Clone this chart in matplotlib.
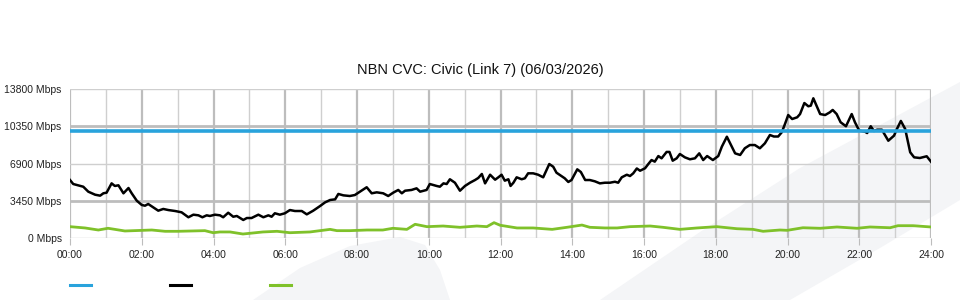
import numpy as np
import matplotlib.pyplot as plt
from matplotlib.patches import Polygon
from matplotlib.lines import Line2D

plt.rcParams['font.family'] = ['Liberation Sans', 'DejaVu Sans']

title = 'NBN CVC: Civic (Link 7) (06/03/2026)'

# capacity line (Mbps)
cap_value = 9950

# traffic in (black), hours / Mbps
in_hours = [0.00, 0.09, 0.23, 0.37, 0.51, 0.70, 0.84, 0.93, 1.02, 1.16, 1.25, 1.35, 1.49, 1.63,
            1.72, 1.86, 2.00, 2.09, 2.18, 2.32, 2.46, 2.60, 2.74, 2.93, 3.11, 3.30, 3.44, 3.58,
            3.69, 3.81, 3.90, 4.04, 4.18, 4.27, 4.41, 4.55, 4.65, 4.74, 4.83, 4.93, 5.06, 5.25,
            5.39, 5.53, 5.62, 5.71, 5.85, 5.99, 6.13, 6.27, 6.46, 6.60, 6.78, 6.97, 7.11, 7.25,
            7.39, 7.48, 7.62, 7.80, 7.94, 8.08, 8.27, 8.41, 8.55, 8.73, 8.87, 9.01, 9.15, 9.25,
            9.34, 9.52, 9.66, 9.76, 9.94, 10.03, 10.22, 10.31, 10.41, 10.50, 10.59, 10.73, 10.87,
            11.01, 11.15, 11.29, 11.38, 11.48, 11.57, 11.71, 11.85, 11.94, 12.03, 12.12, 12.22,
            12.28, 12.36, 12.45, 12.59, 12.68, 12.77, 12.91, 13.05, 13.19, 13.36, 13.47, 13.56,
            13.70, 13.79, 13.89, 13.98, 14.14, 14.24, 14.36, 14.49, 14.63, 14.77, 14.91, 15.05,
            15.19, 15.28, 15.38, 15.52, 15.61, 15.70, 15.80, 15.89, 16.03, 16.12, 16.21, 16.30,
            16.40, 16.49, 16.63, 16.71, 16.80, 16.91, 17.00, 17.14, 17.28, 17.42, 17.54, 17.65,
            17.76, 17.92, 18.07, 18.17, 18.31, 18.40, 18.54, 18.68, 18.81, 18.95, 19.09, 19.23,
            19.37, 19.51, 19.62, 19.74, 19.84, 19.93, 20.02, 20.13, 20.27, 20.35, 20.47, 20.58,
            20.65, 20.72, 20.81, 20.91, 21.05, 21.18, 21.26, 21.37, 21.48, 21.63, 21.79, 21.88,
            22.00, 22.16, 22.22, 22.32, 22.41, 22.50, 22.63, 22.81, 22.97, 23.04, 23.16, 23.28,
            23.42, 23.53, 23.69, 23.88, 24.00]
in_mbps = [5370, 5000, 4880, 4750, 4290, 4010, 3920, 4140, 4200, 5060, 4820, 4880, 4140, 4630,
           4140, 3460, 3060, 2990, 3150, 2840, 2530, 2690, 2590, 2500, 2380, 1920, 2160, 2100,
           1920, 2100, 2040, 2160, 2100, 1920, 2340, 1970, 2040, 1850, 1670, 1850, 1850, 2160,
           1920, 2100, 1970, 2290, 2160, 2290, 2590, 2500, 2500, 2190, 2530, 2960, 3300, 3520,
           3580, 4080, 3950, 3890, 3980, 4290, 4700, 4140, 4230, 4140, 3890, 4200, 4450, 4140,
           4380, 4450, 4600, 4290, 4450, 5000, 4820, 4750, 5060, 5000, 5440, 5120, 4380,
           4820, 5120, 5370, 5560, 5930, 5060, 5860, 5400, 5620, 5860, 5310, 5440,
           4820, 5120, 5620, 5440, 5530, 5990, 5990, 5860, 5620, 6850, 6600, 6050,
           5740, 5530, 5190, 5370, 6360, 6110, 5370, 5370, 5250, 5060, 5120, 5120,
           5210, 5120, 5620, 5860, 5740, 5990, 6440, 6230, 6460, 6850, 7220, 7070,
           7590, 7380, 7970, 7970, 7160, 7380, 7780, 7470, 7290, 7380, 7840, 7220,
           7590, 7220, 7590, 8460, 9380, 8770, 7840, 7690, 8310, 8610, 8610, 8310,
           8770, 9540, 9400, 9400, 9790, 10560, 11390, 11020, 11180, 11480, 12500, 12200,
           12260, 12940, 12260, 11480, 11390, 11640, 11860, 11480, 10720, 10350, 11480, 10720,
           9940, 9850, 9720, 10350, 9910, 10030, 10030, 9010, 9480, 10030, 10840, 10100,
           7940, 7470, 7410, 7570, 7070]

# traffic out (green)
out_hours = [0.00, 0.42, 0.79, 1.06, 1.25, 1.53, 2.28, 2.65, 3.01, 3.76, 3.99, 4.18, 4.46, 4.82,
             5.38, 5.77, 6.13, 6.69, 7.25, 7.44, 7.80, 8.28, 8.72, 9.00, 9.39, 9.62, 9.95, 10.40,
             10.87, 11.34, 11.62, 11.82, 11.99, 12.46, 12.91, 13.44, 13.85, 14.27, 14.49, 14.91,
             15.25, 15.61, 16.17, 16.53, 17.00, 17.48, 18.03, 18.59, 19.04, 19.32, 19.79, 19.99,
             20.43, 20.91, 21.38, 21.94, 22.30, 22.86, 23.08, 23.50, 24.00]
out_mbps = [1050, 930, 740, 900, 800, 650, 740, 620, 620, 680, 490, 560, 560, 370,
            560, 620, 490, 560, 800, 680, 680, 740, 740, 900, 800, 1270, 1050, 1110,
            990, 1110, 1050, 1420, 1180, 930, 930, 800, 990, 1200, 990, 930,
            930, 1050, 1110, 990, 800, 930, 1050, 860, 800, 620, 740, 710,
            950, 900, 1020, 900, 1020, 950, 1140, 1140, 1020]

y_ticks = [0, 3450, 6900, 10350, 13800]
x_ticks = list(range(0, 25, 2))

fig = plt.figure(figsize=(9.6, 3.0), dpi=100)

# background watermark swooshes (pixel coords -> figure fraction)
def px(pts):
    return [(x / 960, 1 - y / 300) for x, y in pts]

fig.patches.append(Polygon(px([(253, 300), (300, 268), (350, 246), (400, 237), (425, 245),
                               (440, 270), (450, 300)]),
                           closed=True, transform=fig.transFigure, facecolor='#f4f5f7',
                           edgecolor='none', zorder=0))
fig.patches.append(Polygon(px([(600, 300), (700, 232), (800, 168), (960, 82), (960, 200),
                               (880, 248), (790, 300)]),
                           closed=True, transform=fig.transFigure, facecolor='#f4f5f7',
                           edgecolor='none', zorder=0))

ax = fig.add_axes([70 / 960, 62 / 300, 861 / 960, 149 / 300])
ax.set_zorder(2)
ax.patch.set_alpha(0)

# grid
for h in range(0, 25):
    if h % 2 == 0:
        ax.axvline(h, color='#bdbdbd', lw=1.6, zorder=1)
    else:
        ax.axvline(h, color='#cfcfcf', lw=1.0, zorder=1)
for v in y_ticks:
    if v in (3450, 10350):
        ax.axhline(v, color='#bdbdbd', lw=2.0, zorder=1)
    else:
        ax.axhline(v, color='#cfcfcf', lw=1.0, zorder=1)

ax.plot(out_hours, out_mbps, color='#7fc12a', lw=2.0, zorder=3)
ax.plot(in_hours, in_mbps, color='black', lw=1.8, zorder=4)
ax.axhline(cap_value, color='#29a3dc', lw=2.6, zorder=5)

ax.set_xlim(0, 24)
ax.set_ylim(0, 13800)
ax.set_xticks(x_ticks)
ax.set_xticklabels(['%02d:00' % h for h in x_ticks])
ax.set_yticks(y_ticks)
ax.set_yticklabels(['%d Mbps' % v for v in y_ticks])
ax.tick_params(axis='both', labelsize=7.5, colors='#222222', length=0, pad=6)
ax.tick_params(axis='x', length=5, color='#bdbdbd', pad=4)
for s in ax.spines.values():
    s.set_visible(False)

fig.text(480 / 960, 1 - 70 / 300, title, ha='center', va='center', fontsize=10.5, color='#111111')

# legend swatches
for x0, c in [(70, '#29a3dc'), (170, 'black'), (270, '#7fc12a')]:
    fig.add_artist(Line2D([x0 / 960, (x0 + 21) / 960], [1 - 285 / 300, 1 - 285 / 300],
                          transform=fig.transFigure, color=c, lw=2.2))

fig.savefig('out.png', dpi=100)
